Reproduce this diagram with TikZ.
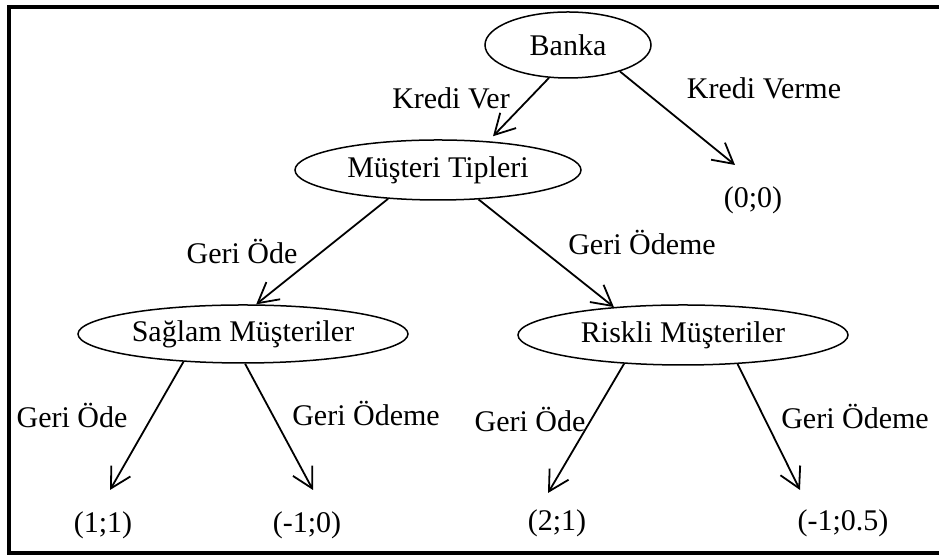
\documentclass[tikz,border=0pt]{standalone}
\usepackage{fontspec}
\setmainfont{Liberation Serif}
\usetikzlibrary{arrows.meta,shapes.geometric,calc}

\begin{document}
\begin{tikzpicture}[x=0.5pt, y=0.5pt,
    every node/.style={font=\fontsize{15}{18}\selectfont},
    karar/.style={ellipse, draw, line width=0.75pt, inner sep=0pt},
    dal/.style={-{Straight Barb[length=10pt,width=11pt]}, line width=0.9pt}]
  \useasboundingbox (0,0) rectangle (939,555);
  \clip (0,0) rectangle (939,555);
  % Frame (right side runs off the picture)
  \draw[line width=1.75pt] (9,2) rectangle (950,548);

  % Decision nodes
  \node[karar, minimum width=83pt, minimum height=33pt] (banka) at (568,510) {Banka};
  \node[karar, minimum width=143pt, minimum height=30pt] (musteri) at (438,385) {Müşteri Tipleri};
  \node[karar, minimum width=165pt, minimum height=29pt] (saglam) at (243,221) {Sağlam Müşteriler};
  \node[karar, minimum width=165pt, minimum height=30pt] (riskli) at (683,220) {Riskli Müşteriler};

  % Payoffs
  \node (zero) at (753,355) {(0;0)};
  \node (s11) at (103,30) {(1;1)};
  \node (s10) at (307,30) {(-1;0)};
  \node (r21) at (557,32) {(2;1)};
  \node (r105) at (843,32) {(-1;0.5)};

  % Branches
  \draw[dal] (banka.240) -- ($(musteri.north)+(55,3)$);
  \draw[dal] (banka.333) -- ($(zero)+(-18,35)$);
  \draw[dal] (musteri.210) -- (saglam.66);
  \draw[dal] (musteri.324) -- (riskli.158);
  \draw[dal] (saglam.205) -- ($(s11)+(7,35)$);
  \draw[dal] (saglam.274) -- ($(s10)+(6,35)$);
  \draw[dal] (riskli.206) -- ($(r21)+(-9,30)$);
  \draw[dal] (riskli.332) -- ($(r105)+(-43,33)$);

  % Branch labels
  \node (kv) at (451,457) {Kredi Ver};
  \node (kvm) at (764,467) {Kredi Verme};
  \node (go1) at (242,303) {Geri Öde};
  \node (gm1) at (642,312) {Geri Ödeme};
  \node (go2) at (72,139) {Geri Öde};
  \node (gm2) at (366,141) {Geri Ödeme};
  \node (go3) at (530,135) {Geri Öde};
  \node (gm3) at (855,138) {Geri Ödeme};
\end{tikzpicture}
\end{document}
